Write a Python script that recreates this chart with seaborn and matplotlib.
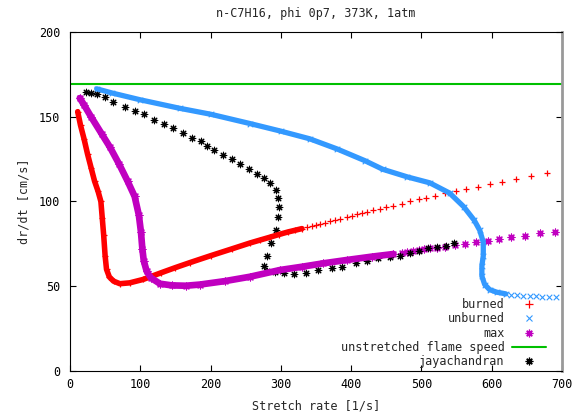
import matplotlib
matplotlib.use('Agg')
import matplotlib.pyplot as plt
from matplotlib.lines import Line2D
import seaborn as sns

# burned: dense band, then individually visible '+' points
burned_band_x = [11, 15, 20, 25, 30, 35, 40, 44, 46, 48, 50, 52, 56, 62, 71, 85, 104, 130, 150, 171, 200, 230, 256, 270, 285, 297, 310, 320, 330]
burned_band_y = [153, 145, 137, 128, 120, 112, 106, 100, 90, 80, 68, 60, 55.5, 53, 51.5, 52, 54, 58, 61, 64, 68, 72, 75.5, 77.2, 79, 80.5, 82, 83, 84]
burned_x = [337, 344, 350, 356, 363, 370, 377, 384, 394, 401, 408, 415, 422, 431, 441, 450, 460, 472, 484, 496, 507, 519, 533, 549, 564, 580, 597, 614, 634, 656, 678]
burned_y = [84.7, 85.5, 86.2, 86.8, 87.6, 88.3, 89.0, 89.7, 91.0, 91.7, 92.5, 93.2, 94.0, 94.8, 95.8, 96.7, 97.6, 98.8, 100.0, 101.2, 102.3, 103.3, 104.8, 106.2, 107.2, 108.6, 110.1, 111.7, 113.1, 115.0, 117.0]

# unburned
unburned_band_x = [38, 60, 100, 156, 200, 256, 300, 341, 380, 420, 445, 480, 512, 540, 560, 575, 583, 588, 588, 586, 586, 590, 597, 607, 620]
unburned_band_y = [166.5, 164, 160, 155, 151.5, 146, 141.5, 137, 131, 124, 119, 114.5, 111, 105, 97, 89, 83, 76, 68, 62, 56, 51, 48, 46.5, 45.5]
unburned_x = [627, 636, 645, 654, 663, 672, 682, 692]
unburned_y = [45, 44.7, 44.5, 44.2, 44, 43.8, 43.6, 43.4]

# max
max_band_x = [14, 20, 30, 45, 57, 70, 82, 92, 98, 101, 103, 105, 109, 115, 128, 145, 165, 185, 220, 256, 299, 330, 360, 394, 430, 460]
max_band_y = [161, 157, 150, 140, 132, 122, 112, 103, 92, 82, 72, 65, 59, 55, 51.5, 50.5, 50.3, 51, 53, 55.6, 59.6, 61.5, 63.5, 65.5, 67.5, 69]
max_x = [472, 480, 488, 496, 504, 512, 522, 533, 548, 562, 577, 594, 610, 627, 647, 669, 690]
max_y = [69.6, 70.2, 70.6, 71.2, 71.8, 72.4, 72.8, 73.3, 74.3, 74.7, 75.9, 76.9, 77.9, 78.9, 79.8, 81.2, 82.2]

flame_speed = 169.5

# jayachandran
jaya_x = [22.8, 29.4, 38.8, 49.8, 61.6, 78.2, 92.5, 105.3, 119.5, 133.7, 146.1, 160.3, 174, 186.5, 195.3, 205.3, 218, 230, 242.5, 255,
          266.5, 275.5, 284.5, 292.8, 295.8, 297.3, 296, 292.8, 286, 279.8, 276.2, 280.2, 291.6, 304.6, 319, 336.5, 353.2, 372.2, 387.3,
          406.8, 422.9, 438.6, 455.2, 469.4, 483.6, 496.9, 509.7, 522.5, 534.4, 546.7]
jaya_y = [164.8, 164.2, 163.4, 161.5, 158.5, 155.9, 153.4, 151.4, 148.1, 145.7, 143.2, 140.4, 137.6, 135.5, 132.8, 130.4, 127.4, 124.9, 122.3, 119,
          116.4, 113.9, 111.1, 106.8, 101.9, 96.5, 91, 83.2, 75.7, 67.8, 61.8, 59.2, 58.2, 57.6, 57.4, 58.1, 59.4, 61, 61.5,
          63.5, 64.9, 66.5, 67.1, 67.8, 69.4, 71, 72.4, 73, 73.9, 75.3]

red = '#ff0000'
blue = '#3399ff'
magenta = '#c000c0'
green = '#00c000'
asterisk = (8, 2, 0)

sns.set_style('ticks')
plt.rcParams['font.family'] = ['DejaVu Sans Mono']
plt.rcParams['font.size'] = 8.5

fig, ax = plt.subplots(figsize=(5.83, 4.19), dpi=100)
fig.subplots_adjust(left=0.120, right=0.964, top=0.9236, bottom=0.1146)


def draw_series(band_x, band_y, pts_x, pts_y, color, marker, lw, s, mlw):
    sns.lineplot(x=band_x, y=band_y, sort=False, estimator=None, color=color,
                 lw=lw, ax=ax, solid_capstyle='round', solid_joinstyle='round')
    sns.scatterplot(x=band_x + pts_x, y=band_y + pts_y, marker=marker, color=color,
                    s=s, linewidth=mlw, ax=ax, legend=False)


draw_series(burned_band_x, burned_band_y, burned_x, burned_y, red, '+', 4.0, 24, 0.9)
draw_series(unburned_band_x, unburned_band_y, unburned_x, unburned_y, blue, 'x', 3.8, 16, 0.8)
draw_series(max_band_x, max_band_y, max_x, max_y, magenta, asterisk, 4.8, 24, 0.9)
ax.axhline(flame_speed, color=green, lw=1.5)
sns.scatterplot(x=jaya_x, y=jaya_y, marker=asterisk, color='black', s=22, linewidth=0.8, ax=ax, legend=False)

ax.set_xlim(0, 700)
ax.set_ylim(0, 200)
ax.set_xticks(range(0, 701, 100))
ax.set_yticks(range(0, 201, 50))
ax.tick_params(direction='in', length=4, width=0.8, top=True, right=True, colors='black')
ax.tick_params(axis='x', pad=5)
ax.tick_params(axis='y', pad=7)
for side in ['left', 'bottom', 'top']:
    ax.spines[side].set_linewidth(0.8)
    ax.spines[side].set_color('black')
ax.spines['right'].set_color('#999999')
ax.spines['right'].set_linewidth(2)

ax.set_title('n-C7H16, phi 0p7, 373K, 1atm', pad=11, fontsize=8.5)
ax.set_xlabel('Stretch rate [1/s]', labelpad=6)
ax.set_ylabel('dr/dt [cm/s]', labelpad=6)

handles = [
    Line2D([], [], ls='none', marker='+', color=red, markersize=5.5, mew=0.9),
    Line2D([], [], ls='none', marker='x', color=blue, markersize=4.5, mew=0.8),
    Line2D([], [], ls='none', marker=asterisk, color=magenta, markersize=5.5, mew=0.9),
    Line2D([], [], color=green, lw=1.5),
    Line2D([], [], ls='none', marker=asterisk, color='black', markersize=5.5, mew=0.9),
]
labels = ['burned', 'unburned', 'max', 'unstretched flame speed', 'jayachandran']
ax.legend(handles, labels, loc='lower right', bbox_to_anchor=(0.9675, 0.008), frameon=False,
          markerfirst=False, handlelength=2.9, handletextpad=0.6, labelspacing=0.11,
          borderpad=0, borderaxespad=0, fontsize=8.5)

fig.savefig('out.png', dpi=100)
